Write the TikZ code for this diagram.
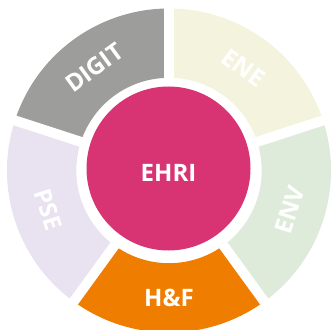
\documentclass[tikz,border=0pt]{standalone}
\usepackage{fontspec}
\setmainfont{Open Sans}
\usetikzlibrary{calc}
\definecolor{ehPink}{HTML}{D83474}
\definecolor{ehDigit}{HTML}{9D9D9C}
\definecolor{ehEne}{HTML}{F4F4DE}
\definecolor{ehEnv}{HTML}{DFEBDA}
\definecolor{ehPse}{HTML}{E8E2F1}
\definecolor{ehHF}{HTML}{EF7D00}

\begin{document}
\begin{tikzpicture}[x=1pt,y=1pt,
  seglabel/.style={text=white,font=\fontsize{24}{24}\selectfont\bfseries,inner sep=0pt},
  hub/.style={circle,fill=ehPink,minimum size=164pt,inner sep=0pt},
  gap/.style={draw=white,line width=10pt}
]
\useasboundingbox (0,0) rectangle (331,329);
\coordinate (c) at (169,158.5);

% ring segments: mid angle / label rotation / name / text / colour
\foreach \mid/\rot/\nm/\lab/\col in {126/36/digit/DIGIT/ehDigit,
    54/-36/ene/ENE/ehEne, -18/72/env/ENV/ehEnv,
    -90/0/hf/H\&F/ehHF, 198/-72/pse/PSE/ehPse}{
  \fill[\col] ($(c)+(\mid-36:92.7)$) arc[start angle=\mid-36,end angle=\mid+36,radius=92.7]
    -- ($(c)+(\mid+36:162)$) arc[start angle=\mid+36,end angle=\mid-36,radius=162] -- cycle;
  \node[seglabel,rotate=\rot] (seg-\nm) at ($(c)+(\mid:127)$) {\lab};
}
% white gaps between the segments
\foreach \a in {18,90,162,234,306}
  \draw[gap] ($(c)+(\a:88)$) -- ($(c)+(\a:170)$);

\node[hub] (ehri) at (168.5,160.5) {};
\node[seglabel] (ehri-label) at (168.5,155.7) {EHRI};
\end{tikzpicture}
\end{document}
